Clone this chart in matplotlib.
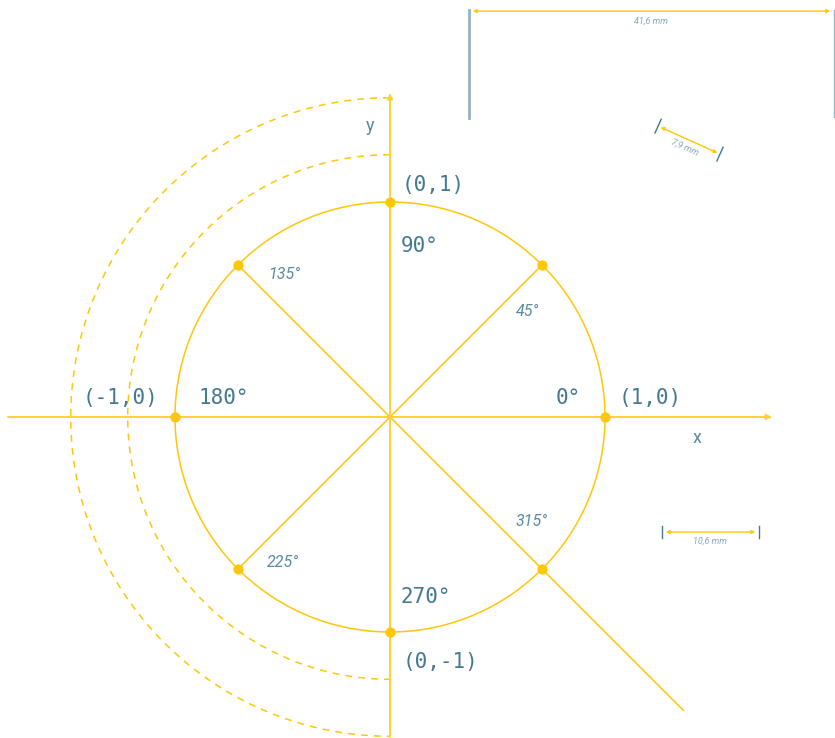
import numpy as np
import matplotlib
matplotlib.use("Agg")
import matplotlib.pyplot as plt

# unit circle data
angles = [0, 45, 90, 135, 180, 225, 270, 315]
big_labels = ["0°", "90°", "180°", "270°"]
small_labels = ["45°", "135°", "225°", "315°"]
coord_labels = ["(1,0)", "(0,1)", "(-1,0)", "(0,-1)"]
dashed_radii = [1.22, 1.485]
dims = ["41,6 mm", "7,9 mm", "10,6 mm"]

YEL = "#ffc709"
YEL_AX = "#ffd234"
TXT = "#44798f"
TXT2 = "#5a8aa0"
TXT3 = "#88a9b8"
GRAY = "#93b3c0"

fig = plt.figure(figsize=(8.35, 7.38), dpi=100)
ax = fig.add_axes([0, 0, 1, 1])
ax.set_xlim(-390 / 215, 445 / 215)
ax.set_ylim(-321 / 215, 417 / 215)
ax.set_aspect("equal")
ax.axis("off")

font = "DejaVu Sans Mono"
font2 = "Roboto"

# axes with arrows
ax.annotate("", xy=(1.79, 0), xytext=(-1.79, 0),
            arrowprops=dict(arrowstyle="-|>", color=YEL_AX, lw=1.4, mutation_scale=8))
ax.annotate("", xy=(0, 1.52), xytext=(0, -1.5),
            arrowprops=dict(arrowstyle="-|>", color=YEL_AX, lw=1.4, mutation_scale=8))

# circle
t = np.linspace(0, 2 * np.pi, 400)
ax.plot(np.cos(t), np.sin(t), color=YEL, lw=1.1)

# dashed half arcs on the left
th = np.linspace(np.pi / 2, 3 * np.pi / 2, 300)
for r in dashed_radii:
    ax.plot(r * np.cos(th), r * np.sin(th), color=YEL, lw=1.1, dashes=(4.5, 4))

# diagonals
d = np.deg2rad(45)
ax.plot([np.cos(d), -np.cos(d)], [np.sin(d), -np.sin(d)], color=YEL, lw=1.1)
ax.plot([-np.cos(d), 1.93 * np.cos(d)], [np.sin(d), -1.93 * np.sin(d)], color=YEL, lw=1.1)

# points
a = np.deg2rad(angles)
ax.scatter(np.cos(a), np.sin(a), s=55, color=YEL, zorder=5, linewidths=0)

# large labels
big_pos = [(0.772, 0.088), (0.051, 0.795), (-0.893, 0.088), (0.051, -0.837)]
for s, (x, y) in zip(big_labels, big_pos):
    ax.text(x, y, s, color=TXT, fontsize=15, family=font, ha="left", va="center")
coord_pos = [(1.065, 0.088), (0.056, 1.079), (-1.428, 0.088), (0.06, -1.14)]
for s, (x, y) in zip(coord_labels, coord_pos):
    ax.text(x, y, s, color=TXT, fontsize=15, family=font, ha="left", va="center")

small_pos = [(0.586, 0.493), (-0.567, 0.665), (-0.572, -0.679), (0.586, -0.488)]
for s, (x, y) in zip(small_labels, small_pos):
    ax.text(x, y, s, color=TXT2, fontsize=11.5, family=font2, style="italic",
            ha="left", va="center")

ax.text(1.428, -0.098, "x", color=TXT2, fontsize=13, family=font2, ha="center", va="center")
ax.text(-0.093, 1.353, "y", color=TXT2, fontsize=13, family=font2, ha="center", va="center")

# dimension annotations
arr = dict(arrowstyle="<|-|>", color=YEL, lw=1.0, mutation_scale=5)
# 41,6 mm
ax.annotate("", xy=(2.06, 1.888), xytext=(0.372, 1.888), arrowprops=arr)
ax.plot([0.367, 0.367], [1.893, 1.391], color=GRAY, lw=2)
ax.plot([2.065, 2.065], [1.893, 1.395], color=GRAY, lw=1)
ax.text(1.214, 1.842, dims[0], color=TXT3, fontsize=6.5, family=font2, style="italic",
        ha="center", va="center")
# 7,9 mm
p0 = np.array([1.247, 1.353])
p1 = np.array([1.535, 1.223])
ax.annotate("", xy=p1, xytext=p0, arrowprops=arr)
v = (p1 - p0) / np.linalg.norm(p1 - p0)
n = np.array([-v[1], v[0]]) * 0.035
for p in (p0, p1):
    ax.plot([p[0] - n[0], p[0] + n[0]], [p[1] - n[1], p[1] + n[1]], color=TXT, lw=1)
ax.text(1.372, 1.256, dims[1], color=TXT3, fontsize=6.5, family=font2, style="italic",
        ha="center", va="center", rotation=-24)
# 10,6 mm
ax.annotate("", xy=(1.712, -0.535), xytext=(1.270, -0.535), arrowprops=arr)
for x in (1.265, 1.717):
    ax.plot([x, x], [-0.507, -0.563], color=TXT, lw=1)
ax.text(1.488, -0.577, dims[2], color=TXT3, fontsize=6.5, family=font2, style="italic",
        ha="center", va="center")

fig.savefig("out.png", dpi=100)
